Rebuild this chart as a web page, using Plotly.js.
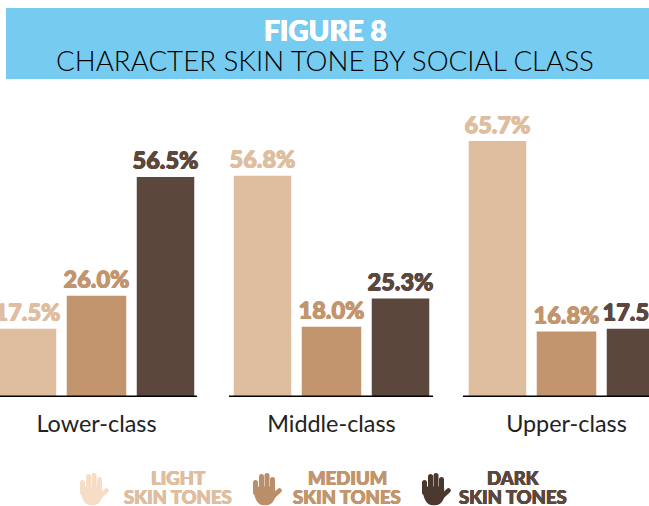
<!DOCTYPE html>
<html><head><meta charset="utf-8">
<script src="https://cdn.plot.ly/plotly-3.0.1.min.js"></script>
<style>html,body{margin:0;padding:0;background:#fff}</style></head>
<body><div id="chart" style="width:649px;height:506px"></div>
<script>
const categories = ["Lower-class", "Middle-class", "Upper-class"];
const lightValues = [17.5, 56.8, 65.7];
const mediumValues = [26.0, 18.0, 16.8];
const darkValues = [56.5, 25.3, 17.5];
const seriesNames = ["Light skin tones", "Medium skin tones", "Dark skin tones"];
const colors = ["#DEBE9F", "#C2956E", "#5B473B"];
const figureLabel = "FIGURE 8";
const chartTitle = "CHARACTER SKIN TONE BY SOCIAL CLASS";

const heavy = "Lato, 'Noto Sans', sans-serif";
function thick(c, d) { return `${d}px 0 0 ${c}, -${d}px 0 0 ${c}, 0 ${d}px 0 ${c}, 0 -${d}px 0 ${c}`; }
function barTrace(name, values, color, width) {
  return {
    type: "bar", name: name, x: categories, y: values, width: width,
    marker: {color: color},
    text: values.map(v => v.toFixed(1) + "%"),
    textposition: "outside", cliponaxis: true, constraintext: "none",
    textfont: {family: heavy, size: 23.5, color: color, weight: 900, shadow: thick(color, 0.5)},
    hoverinfo: "x+y"
  };
}
function hand(fill) {
  const svg = "<svg xmlns='http://www.w3.org/2000/svg' viewBox='0 0 30 33'>" +
    "<g stroke='" + fill + "' stroke-linecap='round' fill='none'>" +
    "<path stroke-width='5' d='M3.500 20V10M9.500 18V4M15 18V3M20.500 18V7'/>" +
    "<path stroke-width='4.500' d='M21 24L27.500 18'/></g>" +
    "<path fill='" + fill + "' d='M1.200 14H23L23.500 24C22 29 19 33 13 33C5 33 2 26 1.200 14Z'/></svg>";
  return "data:image/svg+xml;utf8," + encodeURIComponent(svg);
}
const plotH = 397, H = 506;
function py(px) { return (plotH - px) / plotH; } // pixel row to paper y
function textLine(x, y, text, color, size, extra) {
  return {xref: "paper", yref: "paper", x: x / 649, y: py(y), xanchor: "center", yanchor: "middle", showarrow: false,
    text: text, font: Object.assign({family: heavy, size: size, color: color, weight: 900, shadow: thick(color, 0.4)}, extra || {})};
}
const annotations = [
  textLine(325, 30, figureLabel, "#ffffff", 28),
  textLine(178, 478, "LIGHT", colors[0], 18.5),
  textLine(178, 497, "SKIN TONES", colors[0], 18.5),
  textLine(347, 478, "MEDIUM", colors[1], 18.5),
  textLine(347, 497, "SKIN TONES", colors[1], 18.5),
  textLine(513, 478, "DARK", colors[2], 18.5),
  textLine(513, 497, "SKIN TONES", colors[2], 18.5)
];
const images = [[79, "#F6DEC6"], [252, "#B98E68"], [421, "#4A382E"]].map(([x, f]) => ({
  source: hand(f), xref: "paper", yref: "paper", x: x / 649, y: py(472.5), sizex: 30 / 649, sizey: 33 / plotH,
  xanchor: "left", yanchor: "top", sizing: "stretch", layer: "above"
}));

const unit = 235, x0 = 96.5;
function ax(px) { return (px - x0) / unit; }
const axisSegs = [[0, 197], [229, 433], [463, 649]].map(([a, b]) => ({
  type: "line", xref: "x", yref: "y", x0: ax(a), x1: ax(b), y0: 0, y1: 0,
  line: {color: "#000000", width: 3.2}, layer: "above"
}));
const layout = {
  width: 649, height: H, margin: {l: 0, r: 0, t: 0, b: H - plotH, pad: 0},
  paper_bgcolor: "#ffffff", plot_bgcolor: "#ffffff", showlegend: false,
  barmode: "group", bargap: 0.119, bargroupgap: 0,
  title: {text: chartTitle, font: {family: "Lato, sans-serif", size: 27.7, color: "#000", weight: 300},
          x: 325/649, xanchor: "center", xref: "paper", y: 1 - 61/H, yanchor: "middle"},
  xaxis: {type: "category", range: [ax(0), ax(649)], showgrid: false, zeroline: false, showline: false,
          ticks: "outside", ticklen: 6, tickcolor: "rgba(0,0,0,0)", tickfont: {family: "Lato, sans-serif", size: 23.4, color: "#222", weight: 400},
          automargin: false, fixedrange: true},
  yaxis: {range: [0, plotH / 3.896], visible: false, fixedrange: true},
  shapes: [{type: "rect", xref: "paper", yref: "paper", x0: 6/649, x1: 1, y0: py(79), y1: py(8),
            fillcolor: "#76CCF0", line: {width: 0}, layer: "below"}].concat(axisSegs),
  annotations: annotations, images: images
};
const w = 57.5 / unit, wm = 59.5 / unit;
Plotly.newPlot("chart", [
  barTrace(seriesNames[0], lightValues, colors[0], w),
  barTrace(seriesNames[1], mediumValues, colors[1], wm),
  barTrace(seriesNames[2], darkValues, colors[2], w)
], layout, {displayModeBar: false, staticPlot: true});
</script></body></html>
